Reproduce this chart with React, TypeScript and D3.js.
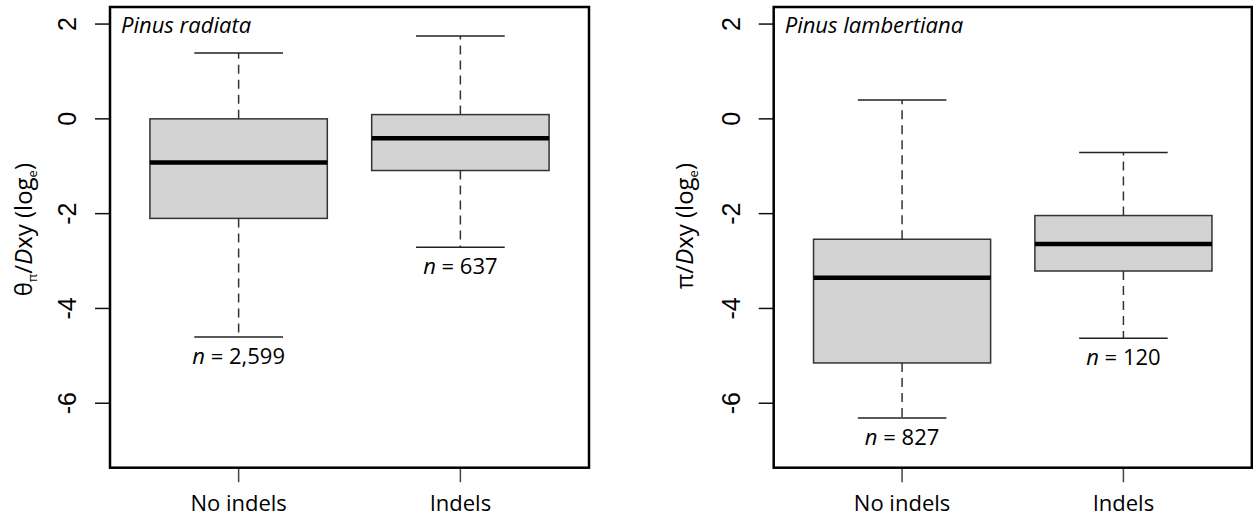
import React, { useEffect, useRef } from "react";
import * as d3 from "d3";

const categories = ["No indels", "Indels"];
const yTicks = [2, 0, -2, -4, -6];

// Pinus radiata (theta_pi / Dxy)
const radiataLower = [-4.6, -2.71];
const radiataQ1 = [-2.1, -1.09];
const radiataMedian = [-0.92, -0.41];
const radiataQ3 = [0.0, 0.09];
const radiataUpper = [1.39, 1.75];
const radiataN = ["2,599", "637"];

// Pinus lambertiana (pi / Dxy)
const lambertianaLower = [-6.31, -4.63];
const lambertianaQ1 = [-5.15, -3.21];
const lambertianaMedian = [-3.35, -2.64];
const lambertianaQ3 = [-2.54, -2.04];
const lambertianaUpper = [0.4, -0.71];
const lambertianaN = ["827", "120"];

const W = 1253;
const H = 521;
const TEXT_FONT = "'Open Sans', 'Noto Sans', sans-serif";
const TICK_FONT = "'Liberation Sans', Arial, sans-serif";

interface PanelOpts {
  left: number;
  right: number;
  title: string;
  yLabelX: number;
  yLabelKind: "theta" | "pi";
  lower: number[];
  q1: number[];
  median: number[];
  q3: number[];
  upper: number[];
  n: string[];
}

function drawPanel(svg: d3.Selection<SVGSVGElement, unknown, null, undefined>, o: PanelOpts) {
  const top = 7;
  const bottom = 467.7;
  const y = d3.scaleLinear().domain([-7.36, 2.36]).range([bottom, top]);
  const x = d3.scaleLinear().domain([0.42, 2.58]).range([o.left, o.right]);
  const g = svg.append("g");

  // boxes
  categories.forEach((_, i) => {
    const c = i + 1;
    const xc = x(c);
    // whiskers
    g.append("line")
      .attr("x1", xc).attr("x2", xc)
      .attr("y1", y(o.q3[i])).attr("y2", y(o.upper[i]))
      .attr("stroke", "#333").attr("stroke-width", 1.5)
      .attr("stroke-dasharray", "9,6");
    g.append("line")
      .attr("x1", xc).attr("x2", xc)
      .attr("y1", y(o.q1[i])).attr("y2", y(o.lower[i]))
      .attr("stroke", "#333").attr("stroke-width", 1.5)
      .attr("stroke-dasharray", "9,6");
    // staples
    [o.upper[i], o.lower[i]].forEach((v) => {
      g.append("line")
        .attr("x1", x(c - 0.2)).attr("x2", x(c + 0.2))
        .attr("y1", y(v)).attr("y2", y(v))
        .attr("stroke", "#222").attr("stroke-width", 1.5);
    });
    // box
    g.append("rect")
      .attr("x", x(c - 0.4))
      .attr("y", y(o.q3[i]))
      .attr("width", x(c + 0.4) - x(c - 0.4))
      .attr("height", y(o.q1[i]) - y(o.q3[i]))
      .attr("fill", "#d3d3d3")
      .attr("stroke", "#333")
      .attr("stroke-width", 1.5);
    // median
    g.append("line")
      .attr("x1", x(c - 0.4)).attr("x2", x(c + 0.4))
      .attr("y1", y(o.median[i])).attr("y2", y(o.median[i]))
      .attr("stroke", "#000").attr("stroke-width", 4.5);
    // n label
    const t = g.append("text")
      .attr("x", xc)
      .attr("y", y(o.lower[i]) + 27)
      .attr("text-anchor", "middle")
      .attr("font-family", TEXT_FONT)
      .attr("font-size", 22)
      .attr("fill", "#000");
    t.append("tspan").attr("font-style", "italic").text("n");
    t.append("tspan").text(" = " + o.n[i]);

    // x tick + label
    g.append("line")
      .attr("x1", xc).attr("x2", xc)
      .attr("y1", bottom).attr("y2", bottom + 14.5)
      .attr("stroke", "#444").attr("stroke-width", 1.5);
    g.append("text")
      .attr("x", xc)
      .attr("y", 511)
      .attr("text-anchor", "middle")
      .attr("font-family", TEXT_FONT)
      .attr("font-size", 22)
      .attr("fill", "#000")
      .text(categories[i]);
  });

  // y ticks
  yTicks.forEach((v) => {
    g.append("line")
      .attr("x1", o.left - 15).attr("x2", o.left)
      .attr("y1", y(v)).attr("y2", y(v))
      .attr("stroke", "#111").attr("stroke-width", 1.5);
    g.append("text")
      .attr("transform", `translate(${o.left - 34}, ${y(v)}) rotate(-90)`)
      .attr("text-anchor", "middle")
      .attr("font-family", TICK_FONT)
      .attr("font-size", 25)
      .attr("fill", "#000")
      .text(v);
  });

  // frame
  g.append("rect")
    .attr("x", o.left)
    .attr("y", top)
    .attr("width", o.right - o.left)
    .attr("height", bottom - top)
    .attr("fill", "none")
    .attr("stroke", "#000")
    .attr("stroke-width", 2.5);

  // panel title
  g.append("text")
    .attr("x", o.left + 11)
    .attr("y", 33)
    .attr("font-family", TEXT_FONT)
    .attr("font-style", "italic")
    .attr("font-size", 22)
    .attr("fill", "#000")
    .text(o.title);

  // y label
  const yl = g.append("text")
    .attr("transform", `translate(${o.yLabelX}, 163) rotate(-90)`)
    .attr("text-anchor", "end")
    .attr("font-family", TEXT_FONT)
    .attr("font-size", 24)
    .attr("fill", "#000");
  if (o.yLabelKind === "theta") {
    yl.append("tspan").text("θ");
    yl.append("tspan").attr("font-size", 13).attr("dy", 5).text("π");
    yl.append("tspan").attr("dy", -5).text("/");
  } else {
    yl.append("tspan").text("π/");
  }
  yl.append("tspan").attr("font-style", "italic").text("D");
  yl.append("tspan").text("xy (log");
  yl.append("tspan").attr("font-size", 13).attr("dy", 5).text("e");
  yl.append("tspan").attr("dy", -5).text(")");
}

export default function App() {
  const ref = useRef<SVGSVGElement>(null);

  useEffect(() => {
    if (!ref.current) return;
    const svg = d3.select(ref.current);
    svg.selectAll("*").remove();
    svg.append("rect").attr("width", W).attr("height", H).attr("fill", "#fff");

    drawPanel(svg, {
      left: 110,
      right: 589,
      title: "Pinus radiata",
      yLabelX: 32,
      yLabelKind: "theta",
      lower: radiataLower,
      q1: radiataQ1,
      median: radiataMedian,
      q3: radiataQ3,
      upper: radiataUpper,
      n: radiataN,
    });
    drawPanel(svg, {
      left: 773.7,
      right: 1251.8,
      title: "Pinus lambertiana",
      yLabelX: 693,
      yLabelKind: "pi",
      lower: lambertianaLower,
      q1: lambertianaQ1,
      median: lambertianaMedian,
      q3: lambertianaQ3,
      upper: lambertianaUpper,
      n: lambertianaN,
    });
  }, []);

  return (
    <svg
      ref={ref}
      width={W}
      height={H}
      style={{ position: "absolute", left: 0, top: 0, display: "block" }}
    />
  );
}
